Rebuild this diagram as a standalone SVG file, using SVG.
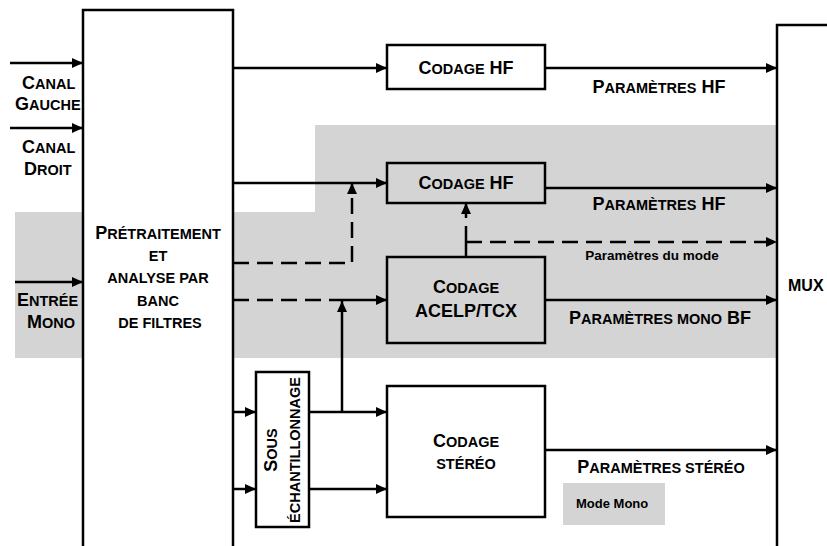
<svg xmlns="http://www.w3.org/2000/svg" width="827" height="546" viewBox="0 0 827 546">
<defs>
<style>
.t{font-family:"Liberation Sans",Arial,sans-serif;font-weight:bold;font-size:18px;fill:#000}
.s{font-size:14.5px}
.m{text-anchor:middle}
.box{fill:none;stroke:#000;stroke-width:2.5}
.wbox{fill:#fff;stroke:#000;stroke-width:2.5}
.c{fill:none;stroke:#000;stroke-width:2.5}
.d{fill:none;stroke:#000;stroke-width:2.5;stroke-dasharray:16 8}
.small{font-family:"Liberation Sans",Arial,sans-serif;font-weight:bold;font-size:13.5px;fill:#000}
</style>
<marker id="ah" markerUnits="userSpaceOnUse" markerWidth="12" markerHeight="10" refX="11" refY="5" orient="auto">
<path d="M0,0 L11,5 L0,10 Z" fill="#000"/>
</marker>
</defs>
<rect width="827" height="546" fill="#fff"/>
<path id="shade" d="M15,212 H315 V125 H776 V358 H15 Z" fill="#d4d4d4"/>

<g id="pretraitement">
<rect class="wbox" x="83" y="10" width="150" height="560"/>
<text class="t m" x="158" y="239">P<tspan class="s">RÉTRAITEMENT</tspan></text>
<text class="t m" x="158" y="261"><tspan class="s">ET</tspan></text>
<text class="t m" x="158" y="283"><tspan class="s">ANALYSE PAR</tspan></text>
<text class="t m" x="158" y="306"><tspan class="s">BANC</tspan></text>
<text class="t m" x="160" y="328"><tspan class="s">DE FILTRES</tspan></text>
</g>

<g id="mux">
<rect class="box" x="777" y="25" width="80" height="560"/>
<text class="t" x="788" y="291" style="font-size:16px">MUX</text>
</g>

<g id="codage-hf-1">
<rect class="box" x="387" y="45" width="158" height="44"/>
<text class="t m" x="466" y="74">C<tspan class="s">ODAGE</tspan> HF</text>
</g>

<g id="codage-hf-2">
<rect class="box" x="387" y="163" width="158" height="40"/>
<text class="t m" x="466" y="189">C<tspan class="s">ODAGE</tspan> HF</text>
</g>

<g id="codage-acelp">
<rect class="box" x="387" y="257" width="158" height="86"/>
<text class="t m" x="466" y="293">C<tspan class="s">ODAGE</tspan></text>
<text class="t m" x="466" y="317">ACELP/TCX</text>
</g>

<g id="sous-echantillonnage">
<rect class="box" x="256" y="372" width="53" height="155"/>
<text class="t m" transform="translate(277,450) rotate(-90)">S<tspan class="s">OUS</tspan></text>
<text class="t m" transform="translate(300,450) rotate(-90)"><tspan class="s">ÉCHANTILLONNAGE</tspan></text>
</g>

<g id="codage-stereo">
<rect class="box" x="387" y="386" width="158" height="131"/>
<text class="t m" x="466" y="447">C<tspan class="s">ODAGE</tspan></text>
<text class="t m" x="466" y="469"><tspan class="s">STÉRÉO</tspan></text>
</g>

<g id="mode-mono">
<rect x="563" y="483" width="102" height="42" fill="#d4d4d4"/>
<text class="small" x="576" y="508" style="font-size:13px">Mode Mono</text>
</g>

<g id="labels">
<text class="t" x="22" y="89">C<tspan class="s">ANAL</tspan></text>
<text class="t" x="15" y="110">G<tspan class="s">AUCHE</tspan></text>
<text class="t" x="22" y="153">C<tspan class="s">ANAL</tspan></text>
<text class="t" x="24" y="175">D<tspan class="s">ROIT</tspan></text>
<text class="t" x="17" y="306">E<tspan class="s">NTRÉE</tspan></text>
<text class="t" x="27" y="328">M<tspan class="s">ONO</tspan></text>
<text class="t m" x="659" y="93">P<tspan class="s">ARAMÈTRES</tspan> HF</text>
<text class="t m" x="659" y="210">P<tspan class="s">ARAMÈTRES</tspan> HF</text>
<text class="small m" x="652" y="260">Paramètres du mode</text>
<text class="t m" x="660" y="324">P<tspan class="s">ARAMÈTRES MONO</tspan> BF</text>
<text class="t m" x="661" y="473">P<tspan class="s">ARAMÈTRES STÉRÉO</tspan></text>
</g>

<g id="connectors">
<path class="c" d="M10,63 H83" marker-end="url(#ah)"/>
<path class="c" d="M10,128 H83" marker-end="url(#ah)"/>
<path class="c" d="M15,282 H83" marker-end="url(#ah)"/>
<path class="c" d="M233,68 H387" marker-end="url(#ah)"/>
<path class="c" d="M545,68 H777" marker-end="url(#ah)"/>
<path class="c" d="M233,183 H387" marker-end="url(#ah)"/>
<path class="c" d="M545,188 H777" marker-end="url(#ah)"/>
<path class="d" d="M233,263 H352 V183" marker-end="url(#ah)"/>
<path class="d" d="M233,300 H342"/>
<path class="c" d="M342,300 H387" marker-end="url(#ah)"/>
<path class="c" d="M342,412 V301" marker-end="url(#ah)"/>
<path class="c" d="M466,257 V242"/>
<path class="d" d="M466,242 V203" marker-end="url(#ah)"/>
<path class="d" d="M466,242 H777" marker-end="url(#ah)"/>
<path class="c" d="M545,300 H777" marker-end="url(#ah)"/>
<path class="c" d="M233,412 H256" marker-end="url(#ah)"/>
<path class="c" d="M233,489 H256" marker-end="url(#ah)"/>
<path class="c" d="M309,412 H387" marker-end="url(#ah)"/>
<path class="c" d="M309,489 H387" marker-end="url(#ah)"/>
<path class="c" d="M545,450 H777" marker-end="url(#ah)"/>
</g>
</svg>
